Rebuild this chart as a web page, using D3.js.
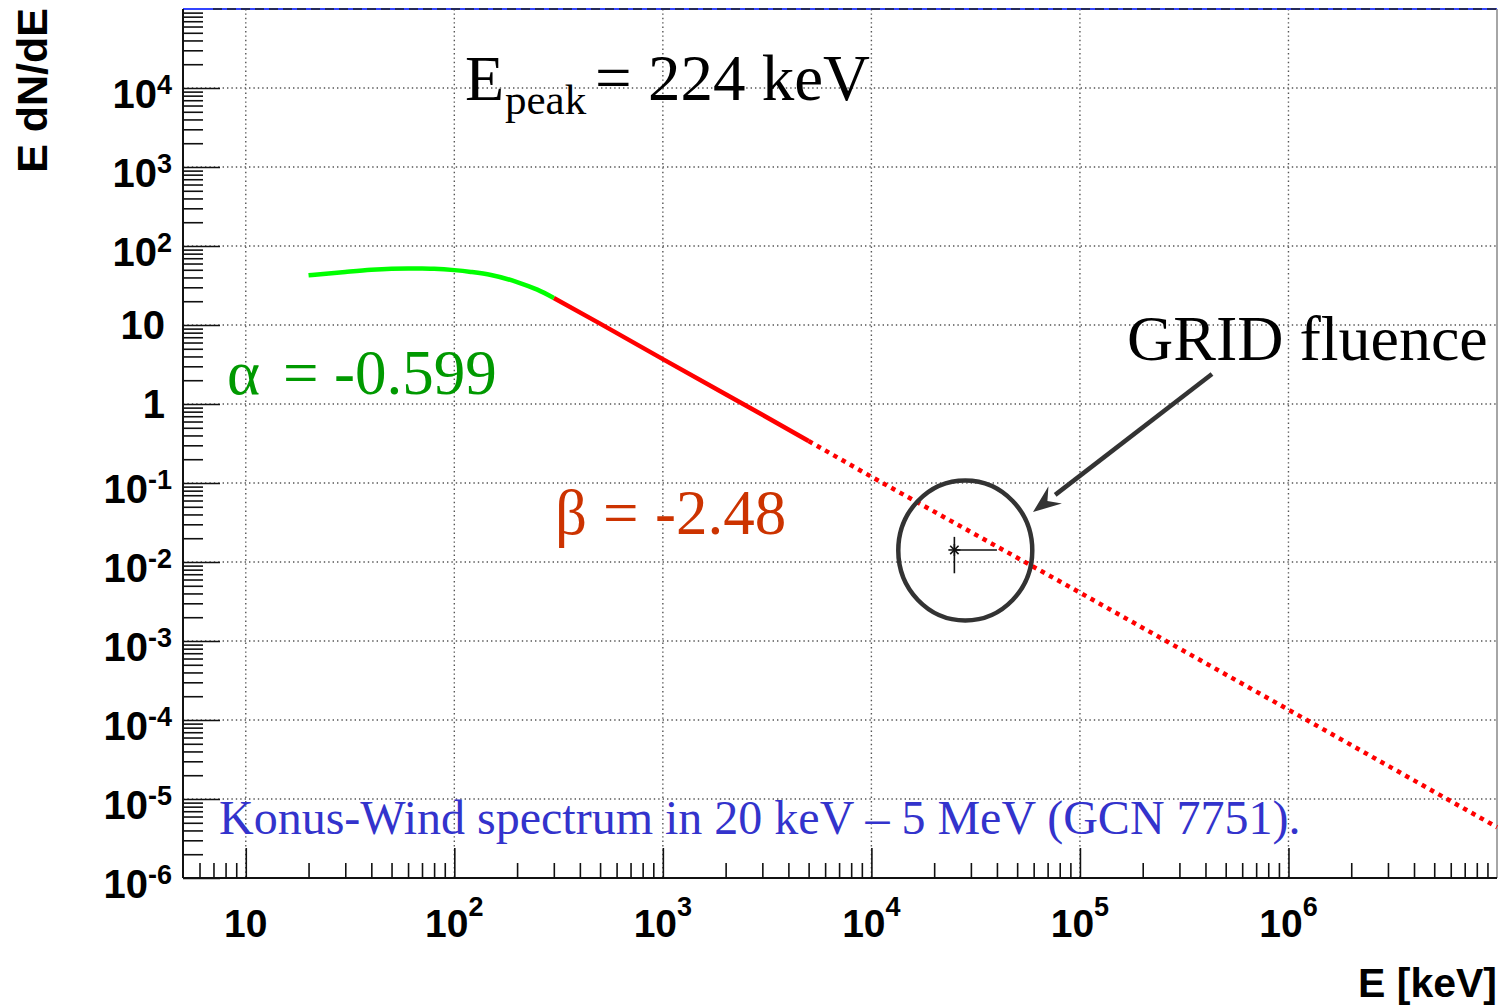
<!DOCTYPE html>
<html>
<head>
<meta charset="utf-8">
<script src="https://cdn.jsdelivr.net/npm/d3@7"></script>
<style>
  body { margin: 0; background: #fff; }
  svg { display: block; }
</style>
</head>
<body>
<svg id="chart" width="1501" height="1008"></svg>
<script>
// Band fit, low-energy branch (E in keV, E dN/dE)
const lowEnergyE    = [20, 25, 30, 40, 50, 60, 70, 80, 100, 120, 150, 200, 250, 300];
const lowEnergyFlux = [42.5, 45, 47, 50, 51.5, 52, 52, 51.5, 49.5, 47, 43, 35, 28, 22];
// high-energy power law inside the Konus-Wind band
const highEnergyE    = [300, 500, 1000, 2000, 3000, 5000];
const highEnergyFlux = [22, 10.4, 3.7, 1.33, 0.73, 0.34];
// extrapolation above 5 MeV
const extrapE    = [5000, 1e4, 1e5, 1e6, 1e7];
const extrapFlux = [0.34, 0.12, 0.0041, 1.35e-4, 4.4e-6];
// GRID fluence point with its error bars
const gridE        = [25000];
const gridEHigh    = [40000];
const gridFlux     = [0.0142];
const gridFluxLow  = [0.0072];
const gridFluxHigh = [0.0208];

// axis tick labels
const xMajor = [10, 1e2, 1e3, 1e4, 1e5, 1e6];
const xExp   = ["", "2", "3", "4", "5", "6"];
const yMajor = [1e-6, 1e-5, 1e-4, 1e-3, 1e-2, 1e-1, 1, 10, 1e2, 1e3, 1e4];
const yBase  = ["10", "10", "10", "10", "10", "10", "1", "10", "10", "10", "10"];
const yExp   = ["-6", "-5", "-4", "-3", "-2", "-1", "", "", "2", "3", "4"];

const svg = d3.select("#chart");
svg.append("rect").attr("width", 1501).attr("height", 1008).attr("fill", "#fff");

const L = 183, R = 1497, T = 9, B = 878;
const x = d3.scaleLog().domain([5, 1e7]).range([L, R]);
const y = d3.scaleLog().domain([1e-6, 1e5]).range([B, T]);

const SANS = "'Liberation Sans', Arial, sans-serif";
const SERIF = "'Liberation Serif', 'Times New Roman', serif";

// minor tick positions (2..9 of every decade inside the domain)
const xMinor = [], yMinor = [];
for (let d = 1; d <= 1e6; d *= 10) for (let m = 2; m <= 9; m++) {
  const v = d * m; if (v > 5 && v < 1e7) xMinor.push(v);
}
for (let e = -6; e < 5; e++) for (let m = 2; m <= 9; m++) yMinor.push(m * Math.pow(10, e));

// dotted grid
const grid = svg.append("g").attr("stroke", "#555").attr("stroke-width", 1.4)
  .attr("stroke-dasharray", "1.4,3");
grid.selectAll(".gx").data(xMajor).join("line")
  .attr("x1", d => x(d)).attr("x2", d => x(d)).attr("y1", T).attr("y2", B);
grid.selectAll(".gy").data(yMajor.slice(1)).join("line")
  .attr("x1", L).attr("x2", R).attr("y1", d => y(d)).attr("y2", d => y(d));

// frame: top and right edges
svg.append("line").attr("x1", L).attr("x2", R).attr("y1", T).attr("y2", T)
  .attr("stroke", "#3344ff").attr("stroke-width", 2);
svg.append("line").attr("x1", L + 30).attr("x2", R).attr("y1", T).attr("y2", T)
  .attr("stroke", "#222").attr("stroke-width", 1.6).attr("stroke-dasharray", "9,5");
svg.append("line").attr("x1", R).attr("x2", R).attr("y1", T).attr("y2", B)
  .attr("stroke", "#888").attr("stroke-width", 1.5);

// axes with inward ticks
function styleAxis(g) {
  g.select(".domain").remove();
  g.selectAll("line").attr("stroke", "#111").attr("stroke-width", 1.6);
}
svg.append("g").attr("transform", `translate(0,${B})`)
  .call(d3.axisBottom(x).tickValues(xMinor).tickSize(-15).tickFormat(""))
  .call(styleAxis);
svg.append("g").attr("transform", `translate(0,${B})`)
  .call(d3.axisBottom(x).tickValues(xMajor).tickSize(-30).tickFormat(""))
  .call(styleAxis);
svg.append("g").attr("transform", `translate(${L},0)`)
  .call(d3.axisLeft(y).tickValues(yMinor).tickSize(-20).tickFormat(""))
  .call(styleAxis);
svg.append("g").attr("transform", `translate(${L},0)`)
  .call(d3.axisLeft(y).tickValues(yMajor).tickSize(-37).tickFormat(""))
  .call(styleAxis);
svg.append("line").attr("x1", L).attr("x2", L).attr("y1", T).attr("y2", B)
  .attr("stroke", "#111").attr("stroke-width", 2);
svg.append("line").attr("x1", L).attr("x2", R).attr("y1", B).attr("y2", B)
  .attr("stroke", "#111").attr("stroke-width", 2);

// tick labels
const xl = svg.append("g").attr("font-family", SANS).attr("font-weight", "bold")
  .attr("font-size", 39).attr("fill", "#000");
xMajor.forEach((v, i) => {
  const t = xl.append("text").attr("x", x(v)).attr("y", 937)
    .attr("text-anchor", "middle").text("10");
  if (xExp[i]) t.append("tspan").attr("font-size", 27).attr("dy", -21).text(xExp[i]);
});
const yl = svg.append("g").attr("font-family", SANS).attr("font-weight", "bold")
  .attr("font-size", 40).attr("fill", "#000");
yMajor.forEach((v, i) => {
  const hasExp = yExp[i] !== "";
  const t = yl.append("text").attr("text-anchor", "end")
    .attr("x", hasExp ? 172 : 165).attr("y", y(v) + (hasExp ? 20 : 14)).text(yBase[i]);
  if (hasExp) t.append("tspan").attr("font-size", 27).attr("dy", -14).text(yExp[i]);
});

// axis titles
svg.append("text").attr("font-family", SANS).attr("font-weight", "bold").attr("font-size", 41)
  .attr("text-anchor", "end").attr("x", 1497).attr("y", 997).text("E [keV]");
svg.append("text").attr("font-family", SANS).attr("font-weight", "bold").attr("font-size", 43)
  .attr("text-anchor", "end").attr("transform", "translate(47,8) rotate(-90)").text("E dN/dE");

// spectrum curves
const line = d3.line().x(d => x(d[0])).y(d => y(d[1]));
svg.append("path").datum(extrapE.map((e, i) => [e, extrapFlux[i]]))
  .attr("d", line).attr("fill", "none").attr("stroke", "#ff0000")
  .attr("stroke-width", 4.5).attr("stroke-dasharray", "4.5,5");
svg.append("path").datum(highEnergyE.map((e, i) => [e, highEnergyFlux[i]]))
  .attr("d", line).attr("fill", "none").attr("stroke", "#ff0000").attr("stroke-width", 4.5);
svg.append("path").datum(lowEnergyE.map((e, i) => [e, lowEnergyFlux[i]]))
  .attr("d", d3.line().curve(d3.curveMonotoneX).x(d => x(d[0])).y(d => y(d[1])))
  .attr("fill", "none").attr("stroke", "#00ff00").attr("stroke-width", 4.5);

// GRID fluence point
const pt = svg.append("g").attr("stroke", "#111").attr("stroke-width", 1.6);
gridE.forEach((e, i) => {
  const cx = x(e), cy = y(gridFlux[i]);
  pt.append("line").attr("x1", cx).attr("x2", cx).attr("y1", y(gridFluxHigh[i])).attr("y2", y(gridFluxLow[i]));
  pt.append("line").attr("x1", cx).attr("x2", x(gridEHigh[i])).attr("y1", cy).attr("y2", cy);
  const s = 6;
  [[0, -s, 0, s], [-s, 0, s, 0], [-s * .7, -s * .7, s * .7, s * .7], [-s * .7, s * .7, s * .7, -s * .7]]
    .forEach(a => pt.append("line").attr("x1", cx + a[0]).attr("y1", cy + a[1])
      .attr("x2", cx + a[2]).attr("y2", cy + a[3]));
});

// circle highlighting the GRID point
svg.append("ellipse").attr("cx", x(28200)).attr("cy", y(0.014)).attr("rx", 67).attr("ry", 70)
  .attr("fill", "none").attr("stroke", "#333").attr("stroke-width", 4.5);

// arrow from the label to the circle
const ax0 = 1212, ay0 = 374, ax1 = 1033, ay1 = 512;
const ang = Math.atan2(ay1 - ay0, ax1 - ax0);
const hl = 28, hw = 11;
const bx = ax1 - hl * Math.cos(ang), by = ay1 - hl * Math.sin(ang);
svg.append("line").attr("x1", ax0).attr("y1", ay0).attr("x2", bx).attr("y2", by)
  .attr("stroke", "#333").attr("stroke-width", 4.5);
svg.append("polygon").attr("fill", "#333").attr("points", [
  [ax1, ay1],
  [bx + hw * Math.sin(ang), by - hw * Math.cos(ang)],
  [bx + 0.35 * hl * Math.cos(ang), by + 0.35 * hl * Math.sin(ang)],
  [bx - hw * Math.sin(ang), by + hw * Math.cos(ang)]
].map(p => p.join(",")).join(" "));

// annotations
const ann = svg.append("g").attr("font-family", SERIF);
ann.append("text").attr("x", 465).attr("y", 100).attr("font-size", 64).text("E");
ann.append("text").attr("x", 505).attr("y", 114).attr("font-size", 43).text("peak");
ann.append("text").attr("x", 595).attr("y", 100).attr("font-size", 65).text("= 224 keV");

const ga = ann.append("g").attr("fill", "#009900").attr("font-size", 63);
ga.append("text").attr("x", 227).attr("y", 394).text("α");
ga.append("text").attr("x", 283).attr("y", 394).text("=");
ga.append("text").attr("x", 334).attr("y", 394).text("-0.599");

const gb = ann.append("g").attr("fill", "#cc3300").attr("font-size", 63);
gb.append("text").attr("x", 555).attr("y", 534).text("β");
gb.append("text").attr("x", 603).attr("y", 534).text("=");
gb.append("text").attr("x", 655).attr("y", 534).text("-2.48");

ann.append("text").attr("x", 1127).attr("y", 360).attr("font-size", 64).text("GRID fluence");

ann.append("text").attr("x", 219).attr("y", 834).attr("font-size", 48).attr("fill", "#3333cc")
  .text("Konus-Wind spectrum in 20 keV – 5 MeV (GCN 7751).");
</script>
</body>
</html>
